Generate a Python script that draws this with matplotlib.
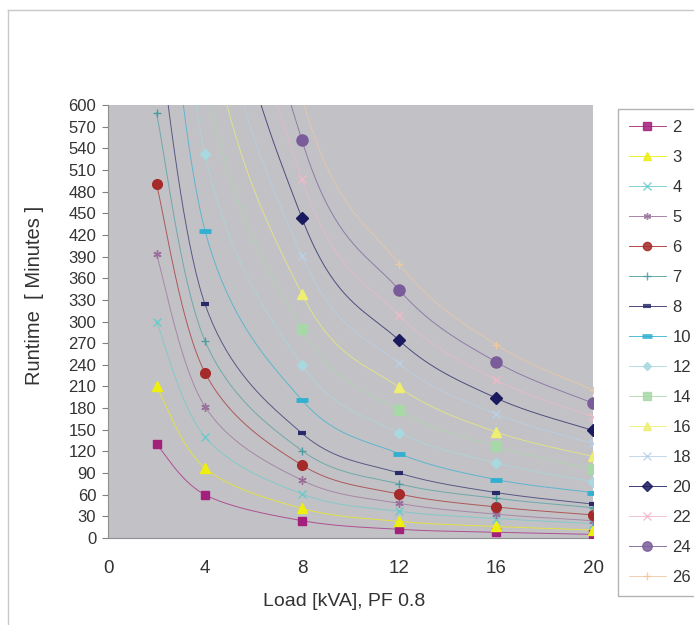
import numpy as np
import matplotlib
matplotlib.use("Agg")
import matplotlib.pyplot as plt
from matplotlib.lines import Line2D

plt.rcParams['font.family'] = ['Liberation Sans', 'DejaVu Sans']

# ---------------- data ----------------
loads = [2, 4, 8, 12, 16, 20]
series_names = ["2", "3", "4", "5", "6", "7", "8", "10", "12", "14", "16", "18", "20", "22", "24", "26"]
rt_2 = [130, 60, 24, 12, 8, 5]
rt_3 = [210, 97, 41, 23, 16, 11]
rt_4 = [300, 140, 61, 37, 27, 20]
rt_5 = [393, 182, 80, 48, 33, 24]
rt_6 = [490, 229, 101, 61, 43, 32]
rt_7 = [589, 273, 121, 75, 55, 42]
rt_8 = [720, 324, 145, 90, 63, 47]
rt_10 = [950, 426, 191, 117, 81, 63]
rt_12 = [1150, 532, 240, 146, 104, 78]
rt_14 = [1400, 640, 289, 177, 127, 95]
rt_16 = [1650, 750, 338, 209, 147, 113]
rt_18 = [1900, 860, 391, 242, 172, 131]
rt_20 = [2150, 980, 443, 274, 194, 149]
rt_22 = [2400, 1100, 497, 309, 219, 168]
rt_24 = [2670, 1215, 551, 344, 244, 187]
rt_26 = [2900, 1320, 610, 380, 268, 205]
runtimes = [rt_2, rt_3, rt_4, rt_5, rt_6, rt_7, rt_8, rt_10, rt_12, rt_14,
            rt_16, rt_18, rt_20, rt_22, rt_24, rt_26]
x_ticks = [0, 4, 8, 12, 16, 20]
y_ticks = list(range(0, 601, 30))

# ---------------- styles ----------------
colors = ["#A3207D", "#EEEE10", "#6CCACA", "#9A6E9A", "#A52A2A", "#4A9E9E",
          "#2A2A6A", "#33B0D0", "#A8D8E0", "#A8D8A8", "#EEEE70", "#B8D0E8",
          "#1A1A5E", "#F0B8C8", "#7A5C9A", "#F0C8A0"]
markers = ["s", "^", "x", (6, 2, 0), "o", "+", "_", "_", "D", "s", "^", "x",
           "D", "x", "o", "+"]
msizes = [6, 7, 6, 6, 7, 6, 6, 9, 5, 7, 7, 6, 6, 6, 8, 6]
mews = [1, 1, 1, 1, 1, 1, 3, 3.5, 1, 1, 1, 1, 1, 1, 1, 1]

W, H = 694, 625
fig = plt.figure(figsize=(W / 100, H / 100), dpi=100)
fig.patch.set_facecolor("white")

ax_l, ax_r, ax_t, ax_b = 108, 593, 105, 538
ax = fig.add_axes([ax_l / W, 1 - ax_b / H, (ax_r - ax_l) / W, (ax_b - ax_t) / H])
ax.set_facecolor("#C2C2C6")
ax.set_xlim(0, 20)
ax.set_ylim(0, 600)

pw, ph = ax_r - ax_l, ax_b - ax_t


def smooth(xs, ys, n=40):
    X = np.asarray(xs, float) / 20 * pw
    Y = np.asarray(ys, float) / 600 * ph
    P = np.column_stack([X, Y])
    out = []
    m = len(P)
    for i in range(m - 1):
        p0 = P[i - 1] if i > 0 else P[i]
        p1 = P[i]
        p2 = P[i + 1]
        p3 = P[i + 2] if i + 2 < m else P[i + 1]
        c1 = p1 + (p2 - p0) / 6
        c2 = p2 - (p3 - p1) / 6
        t = np.linspace(0, 1, n)[:, None]
        seg = ((1 - t) ** 3) * p1 + 3 * ((1 - t) ** 2) * t * c1 + 3 * (1 - t) * t ** 2 * c2 + t ** 3 * p2
        out.append(seg if i == 0 else seg[1:])
    S = np.vstack(out)
    return S[:, 0] / pw * 20, S[:, 1] / ph * 600


handles = []
for name, vals, c, mk, ms, mew in zip(series_names, runtimes, colors, markers, msizes, mews):
    sx, sy = smooth(loads, vals)
    ax.plot(sx, sy, color=c, lw=0.7, alpha=0.7, zorder=2)
    ax.plot(loads, vals, linestyle="none", marker=mk, markersize=ms, color=c,
            markeredgecolor=c, markeredgewidth=mew, zorder=3)
    handles.append(Line2D([0], [0], color=c, lw=0.7, alpha=0.85, marker=mk, markersize=ms * 0.85,
                          markeredgecolor=c, markeredgewidth=mew, label=name))

for s in ["top", "right"]:
    ax.spines[s].set_visible(False)
ax.spines["left"].set_color("#909090")
ax.spines["bottom"].set_color("#909090")
ax.spines["left"].set_linewidth(0.8)
ax.spines["bottom"].set_linewidth(0.8)

ax.set_xticks(x_ticks)
ax.set_xticklabels([str(v) for v in x_ticks])
ax.set_yticks(y_ticks)
ax.set_yticklabels([str(v) for v in y_ticks])
ax.tick_params(axis="x", length=0, pad=16, labelsize=13.5, labelcolor="#333333")
ax.tick_params(axis="y", direction="out", length=4.5, width=0.8, color="#808080",
               pad=4, labelsize=12, labelcolor="#333333")

fig.text(344 / W, 1 - 601 / H, "Load [kVA], PF 0.8", ha="center", va="center",
         fontsize=14, color="#333333")
fig.text(35 / W, 1 - 295 / H, "Runtime  [ Minutes ]", ha="center", va="center",
         rotation=90, fontsize=14.5, color="#333333")

leg = fig.legend(handles=handles, loc="upper left", bbox_to_anchor=(618 / W, 1 - 109 / H),
                 bbox_transform=fig.transFigure, frameon=True, fancybox=False,
                 fontsize=12, handlelength=2.2, handletextpad=0.42, labelspacing=0.9,
                 borderpad=0.65, borderaxespad=0)
leg.get_frame().set_edgecolor("#A0A0A0")
leg.get_frame().set_linewidth(1)
for t in leg.get_texts():
    t.set_color("#333333")

# outer chart frame (top and left visible)
fig.add_artist(Line2D([8 / W, 1], [1 - 10 / H, 1 - 10 / H], color="#C8C8C8", lw=1,
                      transform=fig.transFigure))
fig.add_artist(Line2D([8 / W, 8 / W], [0, 1 - 10 / H], color="#C8C8C8", lw=1,
                      transform=fig.transFigure))

fig.savefig("out.png", dpi=100, facecolor="white")
